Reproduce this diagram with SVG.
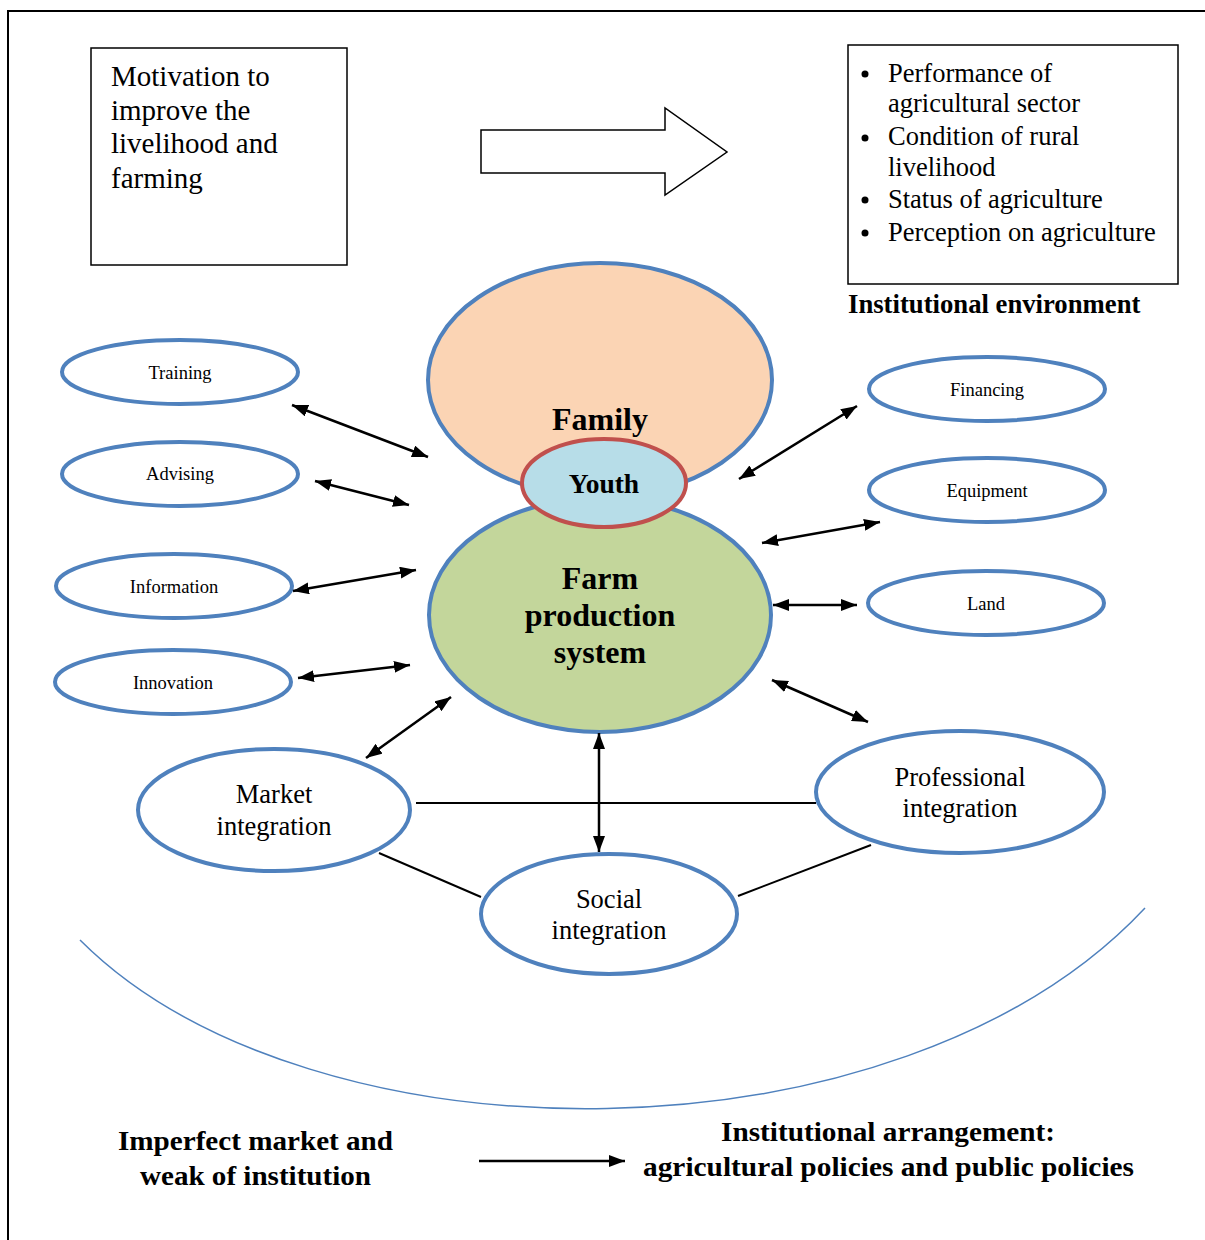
<svg xmlns="http://www.w3.org/2000/svg" width="1205" height="1240" viewBox="0 0 1205 1240">
<defs>
<marker id="ah" viewBox="0 0 16 12" refX="16" refY="6" markerWidth="16" markerHeight="12" markerUnits="userSpaceOnUse" orient="auto-start-reverse">
<path d="M0,0 L16,6 L0,12 Z" fill="#000"/>
</marker>
</defs>
<style>
.t{font-family:"Liberation Serif","Times New Roman",serif;fill:#000}
.b{font-weight:bold}
.oe{fill:#fff;stroke:#4F81BD;stroke-width:4}
.ar{stroke:#000;stroke-width:2.5;fill:none;marker-start:url(#ah);marker-end:url(#ah)}
.ln{stroke:#000;stroke-width:2;fill:none}
.s{font-size:18.5px}
.m{font-size:26.5px}
</style>
<rect width="1205" height="1240" fill="#fff"/>
<path d="M8,1240 L8,11 L1205,11" fill="none" stroke="#000" stroke-width="2"/>

<g id="motivation">
<rect x="91" y="48" width="256" height="217" fill="#fff" stroke="#000" stroke-width="1.5"/>
<text class="t" font-size="29" x="111" y="86">Motivation to</text>
<text class="t" font-size="29" x="111" y="120">improve the</text>
<text class="t" font-size="29" x="111" y="153">livelihood and</text>
<text class="t" font-size="29" x="111" y="188">farming</text>
</g>

<g id="block-arrow">
<path d="M481,130 L665,130 L665,108 L727,152 L665,195 L665,173 L481,173 Z" fill="#fff" stroke="#000" stroke-width="1.5"/>
</g>

<g id="environment">
<rect x="848" y="45" width="330" height="239" fill="#fff" stroke="#000" stroke-width="1.5"/>
<circle cx="865" cy="74" r="3.5"/>
<circle cx="865" cy="138" r="3.5"/>
<circle cx="865" cy="200" r="3.5"/>
<circle cx="865" cy="233" r="3.5"/>
<text class="t m" x="888" y="82">Performance of</text>
<text class="t m" x="888" y="112">agricultural sector</text>
<text class="t m" x="888" y="145">Condition of rural</text>
<text class="t m" x="888" y="176">livelihood</text>
<text class="t m" x="888" y="208">Status of agriculture</text>
<text class="t m" x="888" y="241">Perception on agriculture</text>
<text class="t b" font-size="26.7" x="848" y="313">Institutional environment</text>
</g>

<g id="family">
<ellipse cx="600" cy="380" rx="172" ry="117" fill="#FBD4B4" stroke="#4F81BD" stroke-width="4"/>
<text class="t b" font-size="32" x="600" y="430" text-anchor="middle">Family</text>
</g>

<g id="farm">
<ellipse cx="600" cy="615" rx="171" ry="117" fill="#C3D69B" stroke="#4F81BD" stroke-width="4"/>
<text class="t b" font-size="32" x="600" y="589" text-anchor="middle">Farm</text>
<text class="t b" font-size="32" x="600" y="626" text-anchor="middle">production</text>
<text class="t b" font-size="32" x="600" y="663" text-anchor="middle">system</text>
</g>

<g id="youth">
<ellipse cx="604" cy="483" rx="82" ry="44" fill="#B7DDE8" stroke="#C0504D" stroke-width="4"/>
<text class="t b" font-size="27.5" x="604" y="493" text-anchor="middle">Youth</text>
</g>

<g id="training"><ellipse class="oe" cx="180" cy="372" rx="118" ry="32"/><text class="t s" x="180" y="379" text-anchor="middle">Training</text></g>
<g id="advising"><ellipse class="oe" cx="180" cy="474" rx="118" ry="32"/><text class="t s" x="180" y="480" text-anchor="middle">Advising</text></g>
<g id="information"><ellipse class="oe" cx="174" cy="586" rx="118" ry="32"/><text class="t s" x="174" y="593" text-anchor="middle">Information</text></g>
<g id="innovation"><ellipse class="oe" cx="173" cy="682" rx="118" ry="32"/><text class="t s" x="173" y="689" text-anchor="middle">Innovation</text></g>

<g id="financing"><ellipse class="oe" cx="987" cy="389" rx="118" ry="32"/><text class="t s" x="987" y="396" text-anchor="middle">Financing</text></g>
<g id="equipment"><ellipse class="oe" cx="987" cy="490" rx="118" ry="32"/><text class="t s" x="987" y="497" text-anchor="middle">Equipment</text></g>
<g id="land"><ellipse class="oe" cx="986" cy="603" rx="118" ry="32"/><text class="t s" x="986" y="610" text-anchor="middle">Land</text></g>

<g id="market"><ellipse class="oe" cx="274" cy="810" rx="136" ry="61"/>
<text class="t m" x="274" y="803" text-anchor="middle">Market</text>
<text class="t m" x="274" y="835" text-anchor="middle">integration</text></g>
<g id="professional"><ellipse class="oe" cx="960" cy="792" rx="144" ry="61"/>
<text class="t m" x="960" y="786" text-anchor="middle">Professional</text>
<text class="t m" x="960" y="817" text-anchor="middle">integration</text></g>
<g id="social"><ellipse class="oe" cx="609" cy="914" rx="128" ry="60"/>
<text class="t m" x="609" y="908" text-anchor="middle">Social</text>
<text class="t m" x="609" y="939" text-anchor="middle">integration</text></g>

<g id="connectors">
<line class="ln" x1="416" y1="803" x2="816" y2="803"/>
<line class="ln" x1="379" y1="853" x2="481" y2="897"/>
<line class="ln" x1="738" y1="896" x2="871" y2="845"/>
<line class="ar" x1="599" y1="733" x2="599" y2="852"/>
<line class="ar" x1="292" y1="405" x2="428" y2="457"/>
<line class="ar" x1="315" y1="481" x2="409" y2="505"/>
<line class="ar" x1="293" y1="591" x2="416" y2="570"/>
<line class="ar" x1="298" y1="678" x2="410" y2="665"/>
<line class="ar" x1="366" y1="758" x2="451" y2="697"/>
<line class="ar" x1="739" y1="479" x2="857" y2="406"/>
<line class="ar" x1="762" y1="543" x2="880" y2="522"/>
<line class="ar" x1="773" y1="605" x2="857" y2="605"/>
<line class="ar" x1="772" y1="680" x2="868" y2="722"/>
<path d="M80,940 C310,1170 900,1170 1145,908" fill="none" stroke="#4F81BD" stroke-width="1.5"/>
<line x1="479" y1="1161" x2="625" y2="1161" stroke="#000" stroke-width="2.5" marker-end="url(#ah)"/>
</g>

<g id="bottom-text">
<text class="t b" font-size="27" x="118" y="1150" textLength="275" lengthAdjust="spacingAndGlyphs">Imperfect market and</text>
<text class="t b" font-size="27" x="140" y="1185" textLength="231" lengthAdjust="spacingAndGlyphs">weak of institution</text>
<text class="t b" font-size="27" x="721" y="1141" textLength="334" lengthAdjust="spacingAndGlyphs">Institutional arrangement:</text>
<text class="t b" font-size="27" x="643" y="1176" textLength="491" lengthAdjust="spacingAndGlyphs">agricultural policies and public policies</text>
</g>
</svg>
